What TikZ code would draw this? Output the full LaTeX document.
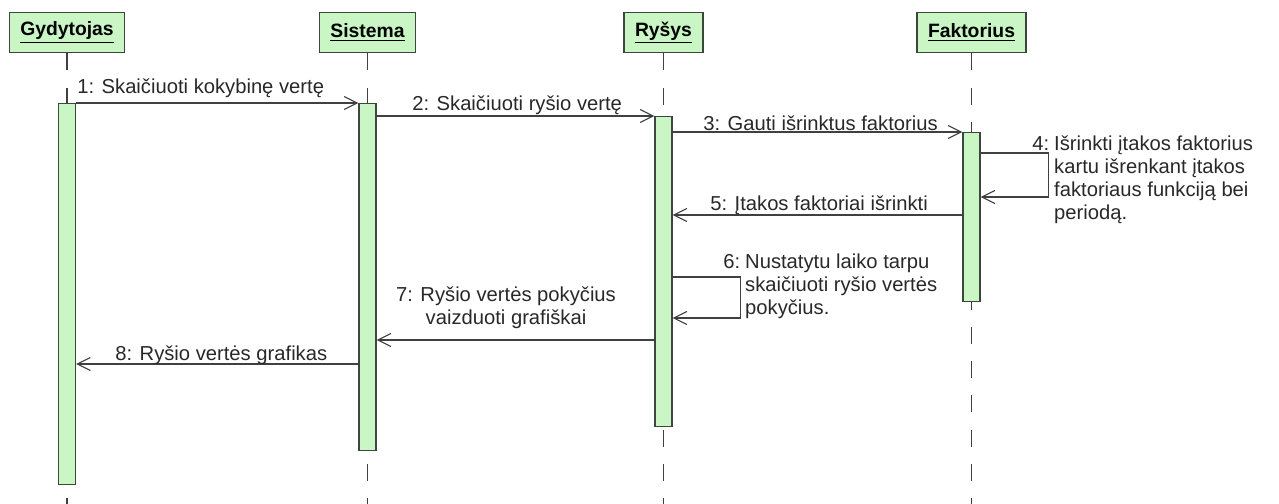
\documentclass[tikz,border=0pt]{standalone}
\usepackage{fontspec}
\setmainfont{Liberation Sans}
\usepackage{tikz}
\usetikzlibrary{arrows.meta,calc}
\definecolor{boxfill}{RGB}{202,246,198}
\definecolor{boxline}{RGB}{60,70,60}
\definecolor{msgline}{RGB}{64,64,64}
\definecolor{msgtext}{RGB}{40,40,40}
\tikzset{
         obj/.style={draw=boxline,fill=boxfill,line width=0.8pt,anchor=north,
                     minimum height=0.8cm,inner xsep=0.22cm,text=black,
                     font=\fontsize{11}{13}\selectfont\bfseries},
         act/.style={draw=boxline,fill=boxfill,line width=0.8pt,anchor=north,
                     minimum width=0.34cm,inner sep=0pt},
         life/.style={draw=msgline,line width=0.8pt,dash pattern=on 0.34cm off 0.344cm},
         msg/.style={draw=msgline,line width=0.75pt,
                     -{Straight Barb[length=0.26cm,width=0.26cm,line width=0.6pt]}},
         lbl/.style={inner sep=0pt,text=msgtext,font=\fontsize{11.5}{13.1}\selectfont}
        }

\begin{document}
\begin{tikzpicture}[x=0.02cm,y=-0.02cm]
\useasboundingbox(0,0) rectangle (1279,504);
\coordinate(bot) at (0,504);
\node[obj](gyd) at (67,12){\underline{Gydytojas}};
\node[obj](sis) at (367.5,12){\underline{Sistema}};
\node[obj](rys) at (663.5,12){\underline{Ryšys}};
\node[obj](fak) at (971.5,12){\underline{Faktorius}};
\draw[life](gyd.south)--(gyd.south|-bot);
\draw[life](sis.south)--(sis.south|-bot);
\draw[life](rys.south)--(rys.south|-bot);
\draw[life](fak.south)--(fak.south|-bot);
\node[act,minimum height=7.62cm](gydA) at (67,103){};
\node[act,minimum height=6.94cm](sisA) at (367.5,103){};
\node[act,minimum height=6.2cm](rysA) at (663.5,116){};
\node[act,minimum height=3.38cm](fakA) at (971.5,132){};
\coordinate(m4a) at (0,153);
\coordinate(m4b) at (0,197);
\coordinate(m5) at (0,215);
\coordinate(m6a) at (0,277);
\coordinate(m6b) at (0,318);
\coordinate(m7) at (0,340);
\coordinate(m8) at (0,364);
\draw[msg](gydA.north east)--(sisA.north west);
\draw[msg](sisA.east|-rysA.north)--(rysA.north west);
\draw[msg](rysA.east|-fakA.north)--(fakA.north west);
\draw[msg](fakA.east|-m4a)--++(68,0)|-(fakA.east|-m4b);
\draw[msg](fakA.west|-m5)--(rysA.east|-m5);
\draw[msg](rysA.east|-m6a)--++(68,0)|-(rysA.east|-m6b);
\draw[msg](rysA.west|-m7)--(sisA.east|-m7);
\draw[msg](sisA.west|-m8)--(gydA.east|-m8);
\node[lbl,anchor=base west](l1) at (77,93){1: Skaičiuoti kokybinę vertę};
\node[lbl,anchor=base west](l2) at (412,110){2: Skaičiuoti ryšio vertę};
\node[lbl,anchor=base west](l3) at (703,130){3: Gauti išrinktus faktorius};
\node[lbl,anchor=base west](l4) at (1032,150){\begin{tabular}[t]{@{}r@{\hspace{0.1cm}}l@{}}
4:&Išrinkti įtakos faktorius\\
&kartu išrenkant įtakos\\
&faktoriaus funkciją bei\\
&periodą.
\end{tabular}};
\node[lbl,anchor=base west](l5) at (710,210){5: Įtakos faktoriai išrinkti};
\node[lbl,anchor=base west](l6) at (723,268){\begin{tabular}[t]{@{}r@{\hspace{0.1cm}}l@{}}
6:&Nustatytu laiko tarpu\\
&skaičiuoti ryšio vertės\\
&pokyčius.
\end{tabular}};
\node[lbl,anchor=south,align=center](l7) at (506,329){7: Ryšio vertės pokyčius\\vaizduoti grafiškai};
\node[lbl,anchor=base west](l8) at (115,360){8: Ryšio vertės grafikas};
\end{tikzpicture}
\end{document}
